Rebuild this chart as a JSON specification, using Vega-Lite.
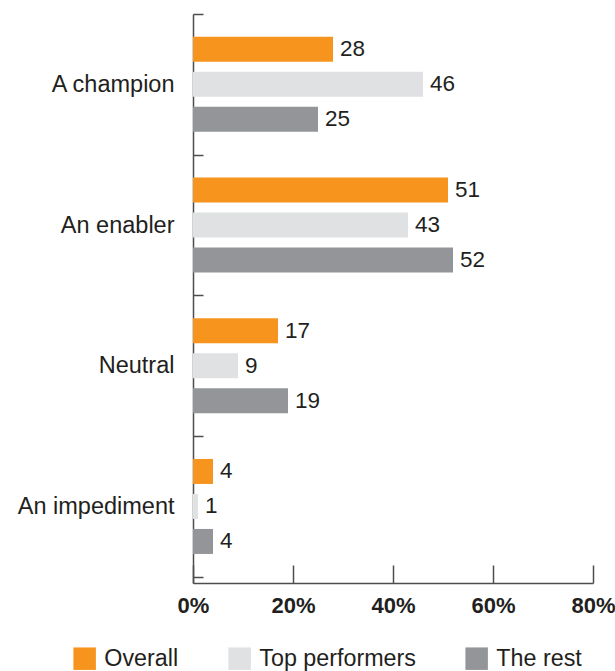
{
  "$schema": "https://vega.github.io/schema/vega-lite/v6.json",
  "width": 400,
  "height": 569,
  "autosize": {"type": "none"},
  "padding": {"left": 193, "top": 14, "right": 22, "bottom": 88},
  "config": {"view": {"stroke": null}, "font": "Liberation Sans"},
  "data": {
    "values": [
      {"category": "A champion", "group": "Overall", "value": 28},
      {"category": "A champion", "group": "Top performers", "value": 46},
      {"category": "A champion", "group": "The rest", "value": 25},
      {"category": "An enabler", "group": "Overall", "value": 51},
      {"category": "An enabler", "group": "Top performers", "value": 43},
      {"category": "An enabler", "group": "The rest", "value": 52},
      {"category": "Neutral", "group": "Overall", "value": 17},
      {"category": "Neutral", "group": "Top performers", "value": 9},
      {"category": "Neutral", "group": "The rest", "value": 19},
      {"category": "An impediment", "group": "Overall", "value": 4},
      {"category": "An impediment", "group": "Top performers", "value": 1},
      {"category": "An impediment", "group": "The rest", "value": 4}
    ]
  },
  "encoding": {
    "y": {
      "field": "category",
      "type": "nominal",
      "sort": ["A champion", "An enabler", "Neutral", "An impediment"],
      "scale": {"paddingInner": 0, "paddingOuter": 0.022, "align": 0},
      "axis": {
        "title": null,
        "tickBand": "extent",
        "tickSize": -10,
        "tickColor": "#4D4D4F",
        "tickWidth": 1.5,
        "domainColor": "#4D4D4F",
        "domainWidth": 1.5,
        "labelFontSize": 23.5,
        "labelColor": "#231F20",
        "labelPadding": 29
      }
    },
    "yOffset": {
      "field": "group",
      "type": "nominal",
      "sort": ["Overall", "Top performers", "The rest"],
      "scale": {"paddingInner": 0.286, "paddingOuter": 0.653}
    },
    "x": {
      "field": "value",
      "type": "quantitative",
      "scale": {"domain": [0, 80], "nice": false},
      "axis": {
        "title": null,
        "values": [0, 20, 40, 60, 80],
        "labelExpr": "datum.value + '%'",
        "grid": false,
        "tickSize": -18,
        "tickColor": "#4D4D4F",
        "tickWidth": 1.5,
        "domainColor": "#4D4D4F",
        "domainWidth": 1.5,
        "labelFontSize": 22,
        "labelFontWeight": "bold",
        "labelColor": "#231F20",
        "labelPadding": 30,
        "labelFlush": false
      }
    }
  },
  "layer": [
    {
      "mark": {"type": "bar"},
      "encoding": {
        "color": {
          "field": "group",
          "type": "nominal",
          "scale": {
            "domain": ["Overall", "Top performers", "The rest"],
            "range": ["#F7941D", "#E0E1E2", "#939598"]
          },
          "legend": {
            "title": null,
            "orient": "none",
            "legendX": -120,
            "legendY": 633,
            "direction": "horizontal",
            "symbolType": "square",
            "symbolSize": 506,
            "symbolStrokeWidth": 0,
            "labelFontSize": 23.3,
            "labelColor": "#231F20",
            "labelOffset": 8,
            "columnPadding": 49
          }
        }
      }
    },
    {
      "mark": {"type": "text", "align": "left", "baseline": "middle", "dx": 7, "fontSize": 22.5, "color": "#231F20"},
      "encoding": {"text": {"field": "value", "type": "quantitative"}}
    }
  ]
}
